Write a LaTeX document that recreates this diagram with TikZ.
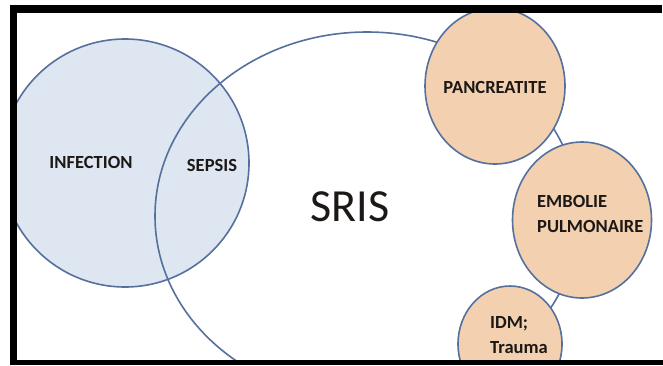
\documentclass[tikz,border=0pt]{standalone}
\usepackage{fontspec}
\setmainfont{Carlito}
\usepackage{tikz}
\usetikzlibrary{shapes.geometric}
\definecolor{rimblue}{RGB}{86,112,158}
\definecolor{infectblue}{RGB}{221,230,241}
\definecolor{causepeach}{RGB}{242,208,176}
\definecolor{inktext}{RGB}{28,24,22}

\begin{document}
\begin{tikzpicture}[
  x=1pt, y=-1pt,
  blob/.style={ellipse, draw=rimblue, line width=1.6pt, inner sep=0pt},
  cause/.style={blob, fill=causepeach},
  tag/.style={font=\bfseries\fontsize{18.5}{25}\selectfont, text=inktext,
    align=left, inner sep=0pt}
]
\useasboundingbox (0,0) rectangle (663,365);

\begin{scope}
\clip (17,13) rectangle (663,360);
% sets
\node[blob, fill=infectblue, minimum width=248pt, minimum height=248pt] (infection) at (125,163) {};
\node[blob, minimum width=424pt, minimum height=368pt] (sris) at (367,216) {};
% causes around SRIS
\node[cause, minimum width=140pt, minimum height=156pt] (pancreatite) at (495,86) {};
\node[cause, minimum width=139pt, minimum height=156pt] (embolie) at (582,220) {};
\node[cause, minimum width=104pt, minimum height=116pt] (idm) at (510,344) {};
\end{scope}

\node[tag] (infectiontext) at (91,162) {INFECTION};
\node[tag] (sepsistext) at (212,165) {SEPSIS};
\node[font=\fontsize{46}{50}\selectfont, text=inktext, inner sep=0pt] (sristext) at (350,207) {SRIS};
\node[tag] (pancreatitetext) at (495,87) {PANCREATITE};
\node[tag, anchor=west] (embolietext) at (537,214) {EMBOLIE\\PULMONAIRE};
\node[tag, anchor=west] (idmtext) at (490,335) {IDM;\\Trauma};

% frame
\fill[black] (10,5) rectangle (662,13);
\fill[black] (10,5) rectangle (17,365);
\fill[black] (10,360) rectangle (663,365);
\end{tikzpicture}
\end{document}
